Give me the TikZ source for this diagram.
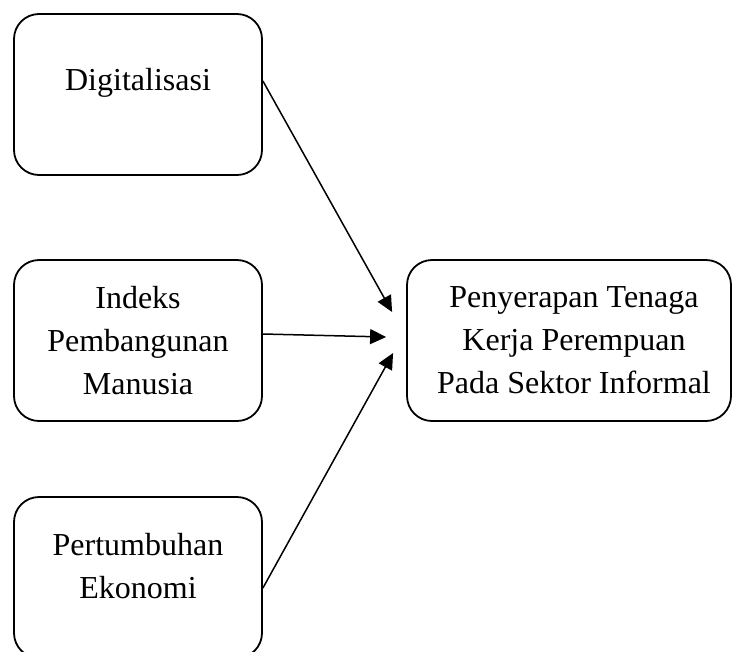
\documentclass[tikz,border=0pt]{standalone}
\usepackage{fontspec}
\setmainfont{Liberation Serif}
\usetikzlibrary{arrows.meta}

\tikzset{
  box/.style = {draw, line width=1.8pt, rounded corners=25pt,
                minimum width=248pt, minimum height=161pt},
  txt/.style = {align=center, font=\fontsize{32}{43}\selectfont},
  arr/.style = {line width=1.5pt, -{Triangle[length=16pt,width=15pt]}}
}

\begin{document}
\begin{tikzpicture}[x=1pt,y=-1pt]

\useasboundingbox (0,0) rectangle (733,651) ;

% left boxes
\node[box] (digi) at (138,94.5) {} ;
\node[box] (ipm) at (138,340.5) {} ;
\node[box] (pe) at (138,577.5) {} ;

% right box
\node[box,minimum width=324pt] (tk) at (569,340.5) {} ;

\node[txt] (digi_txt) at ([yshift=11.5pt]digi.center) {Digitalisasi} ;
\node[txt] (ipm_txt) at (ipm.center) {Indeks\\Pembangunan\\Manusia} ;
\node[txt] (pe_txt) at ([yshift=11.5pt]pe.center) {Pertumbuhan\\Ekonomi} ;
\node[txt] (tk_txt) at ([xshift=5pt]tk.center) {Penyerapan Tenaga\\Kerja Perempuan\\Pada Sektor Informal} ;

\coordinate (tip_a) at ([xshift=-14pt,yshift=28.5pt]tk.west) ;
\coordinate (tip_b) at ([xshift=-20pt,yshift=3.5pt]tk.west) ;
\coordinate (tip_c) at ([xshift=-13pt,yshift=-12.5pt]tk.west) ;

\draw[arr] ([yshift=13.5pt]digi.east) -- (tip_a) ;
\draw[arr] ([yshift=6.5pt]ipm.east) -- (tip_b) ;
\draw[arr] ([yshift=-10.5pt]pe.east) -- (tip_c) ;

\end{tikzpicture}
\end{document}
